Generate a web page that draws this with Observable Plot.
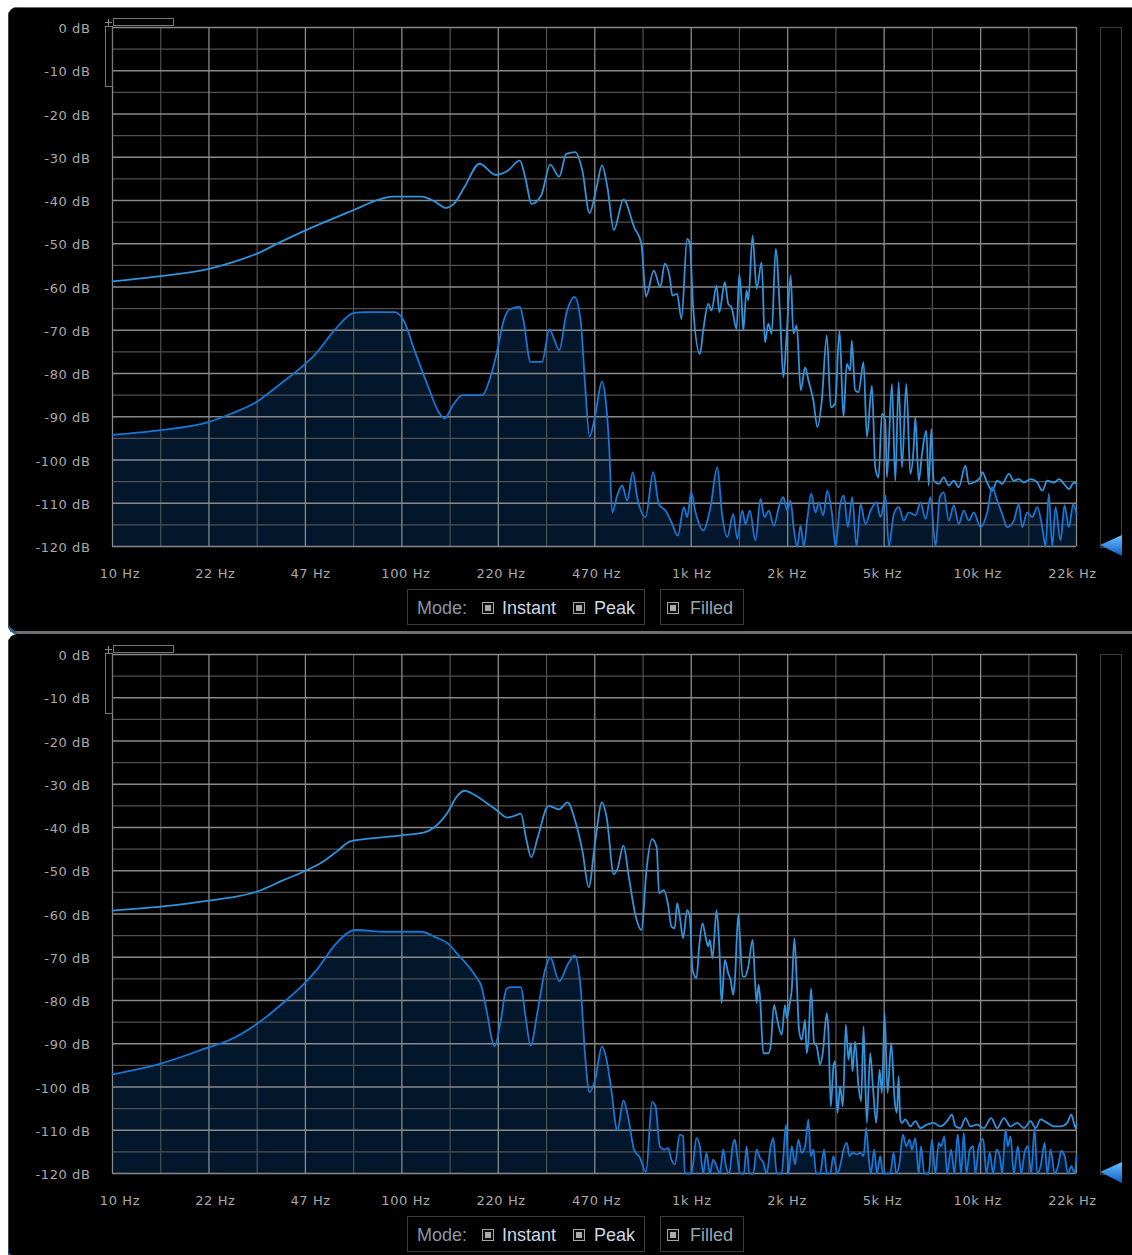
<!DOCTYPE html>
<html>
<head>
<meta charset="utf-8">
<script src="https://cdn.jsdelivr.net/npm/d3@7"></script>
<script src="https://cdn.jsdelivr.net/npm/@observablehq/plot@0.6"></script>
<style>
  html, body { margin: 0; padding: 0; background: #ffffff; width: 1132px; height: 1255px; overflow: hidden; }
  .panel { position: absolute; left: 8px; width: 1124px; height: 627px; background: #000; overflow: hidden;
           border-top-left-radius: 9px; border-bottom-left-radius: 9px; }
  .panel svg.chart { position: absolute; left: 0; top: 0; }
  .panel svg.chart text { letter-spacing: 0.6px; }
  .abs { position: absolute; box-sizing: border-box; }
  .legtxt { position: absolute; top: 590px; line-height: 22px; font-family: "Liberation Sans", Arial, sans-serif; font-size: 18px; white-space: nowrap; }
  .chk { position: absolute; top: 595px; width: 12px; height: 12px; box-sizing: border-box; border: 1px solid #a6a6a6; background: #0c0c0c; padding: 2px; }
  .chk div { width: 6px; height: 6px; background: #a9a9a9; }
</style>
</head>
<body>
<script>
// ---------- axis ticks ----------
const xTicks = [10, 21.6, 46.65, 100.76, 217.6, 470.1, 1015, 2193, 4737, 10232, 22000];
const xTickLabels = ["10 Hz", "22 Hz", "47 Hz", "100 Hz", "220 Hz", "470 Hz", "1k Hz", "2k Hz", "5k Hz", "10k Hz", "22k Hz"];
const xMinorGrid = [14.7, 31.74, 68.56, 148.1, 319.9, 691, 1492, 3223, 6962, 15038];
const yTicks = [0, -10, -20, -30, -40, -50, -60, -70, -80, -90, -100, -110, -120];
const yMinorGrid = [-5, -15, -25, -35, -45, -55, -65, -75, -85, -95, -105, -115];
const legendMode = "Mode:";
const legendItems = ["Instant", "Peak"];
const legendFilled = "Filled";

// ---------- series: [frequency Hz, level dB] ----------
const topPeak = [
  [10,-58.7],[14.7,-57.5],[21.6,-55.8],[28.3,-53.5],[31.7,-52.3],[37.7,-49.8],[46.7,-46.9],[56.2,-44.6],[68.6,-42.2],
  [83.8,-39.8],[93.9,-39.1],[118,-39.1],[132.2,-40.4],[143.2,-41.7],[152.5,-40.8],[166.1,-36.9],[187.3,-31.5],[213.5,-34.1],
  [233.9,-33.2],[258.4,-30.8],[269.7,-34.6],[283.9,-40.8],[306.6,-38.8],[329.4,-31.7],[353.7,-34.5],[374.5,-29.2],[402.2,-28.8],
  [425.8,-33.1],[450.7,-42.9],[477,-36.9],[498.1,-31.9],[519.8,-36.9],[547.3,-46.8],[591.1,-39.8],[644.1,-46.2],[681.9,-50],
  [707.6,-62.2],[753.2,-56.2],[793,-60],[821.9,-54.6],[855.3,-57.7],[873.6,-62.0],[907,-61.6],[939,-67.4],[982.6,-48.9],
  [1004,-50.0],[1031,-64.7],[1088,-75.5],[1117,-70.1],[1163,-63.9],[1194,-65.4],[1243,-59.7],[1270,-65.8],[1328,-58.9],
  [1364,-63.9],[1401,-64.7],[1458,-69.7],[1490,-57.0],[1518,-63.1],[1538,-70.1],[1579,-60.8],[1601,-63.1],[1657,-48.1],
  [1711,-60.4],[1781,-54.3],[1829,-72.8],[1879,-68.5],[1930,-70.8],[1993,-51.2],[2063,-66.2],[2118,-80.9],[2176,-70.8],
  [2246,-57.3],[2295,-70.8],[2357,-68.9],[2434,-83.9],[2520,-78.6],[2588,-81.6],[2693,-86.3],[2781,-92.4],[2879,-86.3],
  [2997,-71.2],[3094,-87.8],[3203,-87.0],[3316,-70.1],[3424,-90.1],[3516,-77.8],[3612,-79.3],[3659,-72.4],[3758,-83.9],
  [3860,-84.3],[4018,-77.4],[4127,-94.7],[4296,-82.8],[4412,-101.7],[4531,-104],[4654,-89.3],[4779,-90.9],[4843,-104],
  [5040,-82.4],[5177,-104.8],[5317,-82.0],[5461,-101.7],[5653,-82.4],[5838,-103.2],[5996,-97.1],[6077,-90.1],[6241,-104.8],
  [6409,-98.6],[6634,-93.2],[6758,-105.9],[6904,-92.8],[7035,-104.8],[7322,-105.5],[7621,-104],[7933,-105.9],[8254,-104.8],
  [8592,-106.3],[9066,-101.3],[9310,-105.5],[9687,-105.2],[10219,-104],[10357,-102.8],[10779,-105.2],[11220,-107.1],
  [11678,-104.8],[12153,-105.5],[12822,-103.2],[13342,-104.8],[13887,-104.4],[14454,-105.2],[15249,-104.4],[16082,-105.2],
  [16739,-107.1],[17424,-104.8],[18379,-105.2],[19125,-104.4],[19907,-105.5],[20720,-106.7],[21563,-105.2],[22000,-105.5]
];

const topInstant = [
  [10,-94.2],[14.7,-93.1],[21.6,-91.2],[26,-89.2],[31.7,-86.5],[37.7,-82.7],[46.7,-77.7],[50.1,-75.8],[59.5,-69.6],
  [68.6,-66],[74.7,-65.8],[95.2,-65.8],[102.2,-67.7],[111.4,-74.6],[123.1,-82.3],[136,-89.2],[142,-90.4],[150.3,-87.7],
  [163.7,-85],[191.5,-85],[202.8,-81.5],[214.7,-75.4],[227.3,-67.7],[237.3,-65.2],[258.4,-64.6],[265.9,-67.7],[281.5,-77.3],
  [308.4,-77.3],[327.5,-69.8],[340.8,-72.3],[353.7,-74.6],[374.5,-66.2],[399.9,-62.3],[419.8,-67.7],[435.6,-83.1],
  [450.7,-94.6],[470.6,-90],[498.1,-81.9],[512.5,-86],[527.4,-97],[540.2,-112.1],[562.3,-108.2],[585.3,-105.9],
  [609.1,-109.4],[636.8,-102.8],[659.6,-108.6],[704.7,-113.2],[749.6,-102.8],[784,-110.2],[826.9,-111.7],[872.3,-114.8],
  [912.1,-117.5],[957.2,-110.9],[983.3,-113.2],[1015,-107.5],[1051,-112.1],[1117,-116.3],[1184,-110.9],[1250,-101.7],
  [1300,-112.8],[1353,-117.8],[1420,-112.5],[1466,-118.2],[1526,-111.7],[1566,-114.8],[1621,-111.7],[1696,-118.6],
  [1765,-109],[1822,-113.2],[1886,-111.7],[1963,-115.2],[2043,-110.9],[2116,-108.6],[2185,-111.7],[2243,-109.4],
  [2303,-115.9],[2366,-120],[2430,-115.2],[2495,-120],[2563,-113.8],[2646,-107.8],[2738,-112.1],[2811,-109.8],
  [2912,-112.8],[3006,-107.1],[3129,-112.8],[3213,-120],[3325,-110.9],[3433,-108.2],[3545,-115.5],[3671,-108.6],
  [3799,-120],[3923,-110.2],[4082,-114.8],[4249,-111.7],[4457,-109.8],[4602,-113.2],[4789,-108.2],[4917,-120],
  [5117,-112.5],[5325,-110.9],[5542,-114],[5768,-112.1],[6085,-112.8],[6334,-109.8],[6591,-113.6],[6859,-108.6],
  [7138,-120],[7387,-108.6],[7627,-107.5],[7937,-114],[8260,-110.5],[8596,-114.8],[8945,-111.7],[9311,-114],
  [9691,-112.1],[10223,-115.5],[10786,-112.1],[11225,-106.3],[11683,-109.4],[12157,-112.5],[12652,-115.5],[13340,-114],
  [13883,-110.2],[14266,-115.5],[14846,-112.1],[15451,-113.2],[16080,-110.9],[16734,-115.5],[17180,-120],[17640,-107.8],
  [18125,-120],[18606,-110.9],[19364,-118.6],[19993,-110.5],[20692,-115.5],[21432,-110.2],[22000,-112.5]
];

const bottomPeak = [
  [10,-59.2],[14.7,-58.3],[21.6,-56.9],[26.8,-56],[31.7,-54.8],[38.8,-52.3],[46.7,-50],[53.1,-48.1],[60.3,-45.4],
  [66.7,-43.2],[74.7,-42.7],[100.8,-41.8],[119.6,-41.2],[130.3,-40],[144,-36.9],[156.9,-32.7],[166.1,-31.5],[178.4,-32.3],
  [197.1,-34.2],[214.7,-36],[233.9,-37.7],[247.6,-37.3],[260.7,-36.8],[271.3,-42.3],[283.1,-46.9],[298.1,-42.3],
  [324.8,-35],[338.9,-35.4],[353.7,-35.8],[377.7,-34.2],[402.2,-38.5],[425.8,-45.4],[448.1,-53.8],[470.6,-43.8],
  [498.1,-34.2],[516.9,-37.7],[547.3,-50.8],[563.1,-49.6],[591.1,-44.2],[617.1,-51.5],[653.1,-60.8],[681.9,-63.7],
  [711.7,-49.2],[742.7,-42.7],[770.7,-44.6],[785.5,-55.2],[815.3,-54.5],[844.1,-57.9],[866.9,-62.9],[890.3,-63.3],
  [907,-57.5],[926.6,-60.6],[951.7,-65.6],[982.6,-59.1],[1004,-60.6],[1025.4,-72.9],[1058.8,-74.8],[1081.7,-67.5],
  [1111,-62.2],[1141,-65.6],[1163,-67.5],[1178,-66],[1203,-70.2],[1243,-59.1],[1270,-67.5],[1294,-80.6],[1328,-70.6],
  [1364,-73.7],[1390,-75.2],[1420,-78.7],[1439,-75.2],[1478,-60.2],[1497,-65.2],[1530,-74.5],[1559,-74.5],[1601,-72.2],
  [1657,-66],[1689,-75.2],[1711,-80.6],[1739,-76.4],[1758,-79.1],[1805,-92.2],[1879,-92.2],[1914,-90.6],[1966,-81],
  [2019,-84.5],[2090,-87.9],[2147,-81],[2176,-84.1],[2235,-80.2],[2265,-77.5],[2313,-65.6],[2357,-75.2],[2401,-86.8],
  [2453,-89.1],[2520,-84.5],[2553,-92.2],[2588,-89.1],[2643,-77.2],[2707,-89.8],[2765,-90.6],[2840,-94.8],[2901,-92.2],
  [2997,-82.9],[3037,-87.5],[3094,-104.5],[3161,-95.2],[3203,-94.1],[3263,-106],[3334,-99.8],[3406,-104.5],[3488,-85.6],
  [3563,-93.7],[3630,-89.8],[3679,-96.4],[3758,-89.5],[3860,-99.8],[3944,-103.3],[4018,-86],[4072,-98.3],[4127,-108.3],
  [4238,-92.2],[4330,-99.8],[4447,-108.3],[4567,-96],[4654,-101.4],[4753,-82.9],[4868,-101.4],[5013,-89.8],[5148,-102.9],
  [5245,-106],[5317,-97.5],[5389,-107.5],[5461,-108.3],[5608,-107.5],[5838,-109.1],[6077,-107.9],[6323,-109.5],
  [6670,-108.7],[7036,-108.3],[7420,-109.1],[7827,-107.9],[8147,-106.4],[8367,-109.1],[8710,-109.5],[9066,-107.2],
  [9434,-109.1],[9950,-108.7],[10495,-109.5],[11131,-107.2],[11678,-109.5],[12317,-107.2],[12991,-109.1],[13702,-108.3],
  [14454,-109.5],[15249,-107.9],[15874,-109.5],[16519,-107.5],[17424,-108.3],[18379,-109.1],[19382,-109.1],[20443,-108.3],
  [21103,-106.4],[21849,-109.5],[22000,-108.7]
];

const bottomInstant = [
  [10,-97.1],[14.7,-94.6],[21.6,-90.8],[25.3,-89.2],[31.7,-85.4],[39.9,-80],[46.7,-75.8],[50.8,-73.1],[59.5,-66.9],
  [66.7,-64],[69.6,-63.7],[88.7,-64.1],[117.9,-64.1],[132.2,-65.4],[146.1,-66.9],[156.9,-69.2],[180.9,-74.2],[190.5,-76.9],
  [197.1,-81.5],[211.6,-90.6],[220.9,-85.4],[232.5,-77.3],[240.7,-76.9],[260.7,-76.9],[269.7,-83.1],[281.5,-90.4],
  [298.1,-82.3],[315.6,-73.1],[329.4,-70],[353.7,-75.5],[379.9,-71.5],[399.9,-69.6],[419.8,-76.9],[435.6,-93.1],
  [450.7,-101.2],[470.6,-98.5],[498.1,-90.6],[516.9,-93.8],[534.9,-100],[563.1,-110],[591.1,-103.1],[613.4,-106.9],
  [644.1,-114.6],[672.1,-116.2],[707.6,-119.6],[742.7,-103.5],[764.2,-104.6],[789.7,-113.7],[821.9,-114.5],[844.1,-114.1],
  [866.9,-116.8],[890.3,-117.9],[926.6,-111],[951.7,-111.4],[964.5,-120],[1017.2,-120],[1058.8,-111.8],[1087.5,-113.7],
  [1116.9,-120],[1147,-115.2],[1178.3,-120],[1209.5,-116.8],[1242.6,-118.3],[1276.2,-120],[1310.8,-114.5],[1339.2,-118.3],
  [1375.4,-120],[1412.3,-113.7],[1438.8,-112.2],[1466,-116],[1497.7,-120],[1546.4,-120],[1579.8,-113.7],[1613.7,-120],
  [1666.2,-120],[1711.3,-114.5],[1757.6,-116.4],[1805.2,-117.5],[1854,-120],[1914.3,-113.7],[1955.5,-111.8],[2008.4,-120],
  [2090.5,-120],[2164.4,-108.7],[2205,-120],[2264.6,-113.7],[2325.9,-117.9],[2388.5,-112.2],[2453.1,-115.2],[2519.5,-113.7],
  [2587.7,-107.5],[2636.4,-116],[2693,-114.5],[2751,-120],[2840.5,-120],[2932.9,-114.5],[2996.4,-120],[3077,-120],
  [3160.3,-116],[3263,-120],[3351.5,-117.5],[3424,-114.5],[3516.7,-112.9],[3592.1,-116],[3689.3,-115.2],[3809.3,-115.6],
  [3912.4,-115.2],[4018.4,-116],[4104.4,-109.5],[4182,-116],[4260.7,-120],[4376,-114.5],[4470.8,-120],[4591,-116],
  [4688,-120],[4815,-120],[4972,-120],[5107,-115.2],[5216,-120],[5357,-117.5],[5502,-111],[5651,-113.7],[5805,-112.2],
  [5914,-114.5],[6075,-111.8],[6240,-120],[6357,-113.7],[6529,-120],[6758,-120],[6941,-112.2],[7129,-120],[7322,-112.9],
  [7460,-113.7],[7661,-111.4],[7827,-120],[8082,-114.5],[8300,-120],[8524,-111],[8755,-120],[8944,-110.6],[9136,-120],
  [9383,-114.5],[9637,-113.7],[9817,-120],[10083,-113.7],[10438,-112],[10720,-120],[11010,-115.2],[11308,-120],
  [11614,-114.5],[11928,-116],[12153,-120],[12482,-109.8],[12715,-113.7],[12991,-111.4],[13342,-120],[13777,-113.7],
  [14149,-120],[14532,-115.2],[14925,-113.7],[15328,-120],[15743,-109.5],[16082,-120],[16518,-118.3],[17056,-112.9],
  [17424,-120],[17896,-114.5],[18478,-120],[18978,-118.3],[19491,-114.8],[20019,-116],[20555,-120],[21111,-118.3],
  [21683,-120],[22000,-116]
];

const panels = [
  { peak: topPeak, instant: topInstant },
  { peak: bottomPeak, instant: bottomInstant }
];

// ---------- drawing ----------
function spectrum(peak, instant) {
  const toRows = a => a.map(([hz, db]) => ({ hz, db }));
  const P = toRows(peak), I = toRows(instant);
  const labelMarks = xTicks.map((t, i) =>
    Plot.text([t], { x: d => d, text: () => xTickLabels[i], frameAnchor: "bottom", dy: 31, dx: 7.5 - i * 1.15, fill: "#a9a9a9" })
  );
  return Plot.plot({
    width: 1124, height: 580,
    marginLeft: 104, marginRight: 56, marginTop: 20, marginBottom: 41,
    x: { type: "log", domain: [10, 22000], axis: null },
    y: { domain: [-120, 0], axis: null },
    style: { background: "transparent", color: "#a9a9a9", fontFamily: "DejaVu Sans, sans-serif", fontSize: "13px", overflow: "visible" },
    marks: [
      Plot.areaY(I, { x: "hz", y1: -120, y2: "db", fill: "#03172c", curve: "monotone-x" }),
      Plot.ruleX(xMinorGrid, { stroke: "#505050", strokeWidth: 1.2 }),
      Plot.ruleY(yMinorGrid, { stroke: "#505050", strokeWidth: 1.2 }),
      Plot.ruleX(xTicks, { stroke: "#898989", strokeWidth: 1.3 }),
      Plot.ruleY(yTicks, { stroke: "#898989", strokeWidth: 1.3 }),
      Plot.line(P, { x: "hz", y: "db", stroke: "#3093dc", strokeWidth: 1.8, curve: "monotone-x" }),
      Plot.line(I, { x: "hz", y: "db", stroke: "#1876d4", strokeWidth: 1.8, curve: "monotone-x" }),
      Plot.text(yTicks, { y: d => d, text: d => `${d} dB`, frameAnchor: "left", textAnchor: "end", dx: -22, dy: 1.5, fill: "#a9a9a9" }),
      ...labelMarks
    ]
  });
}

panels.forEach((p, i) => {
  const panel = document.createElement("div");
  panel.className = "panel";
  panel.style.top = (7 + 627 * i) + "px";
  document.body.appendChild(panel);

  const svg = spectrum(p.peak, p.instant);
  svg.classList.add("chart");
  panel.appendChild(svg);

  const add = (html) => panel.insertAdjacentHTML("beforeend", html);
  // borders
  if (i === 0) add(`<div class="abs" style="left:0;top:0;width:1124px;height:1px;background:#6c6c6c"></div>`);
  add(`<div class="abs" style="left:0;top:0;width:1px;height:627px;background:#3b4654"></div>`);
  add(`<div class="abs" style="left:0;top:624px;width:1124px;height:3px;background:#6e6e6e"></div>`);
  add(`<svg class="abs" style="left:0;top:616px" width="12" height="20"><polygon points="0,2 9,10 0,18" fill="#2d5f8f"/></svg>`);
  // zoom handles near the top-left
  add(`<div class="abs" style="left:105px;top:11px;width:61px;height:8px;border:1px solid #777"></div>`);
  add(`<div class="abs" style="left:97px;top:19px;width:8px;height:61px;border:1px solid #777"></div>`);
  add(`<div class="abs" style="left:97px;top:15px;width:7px;height:1px;background:#888"></div>`);
  add(`<div class="abs" style="left:100px;top:12px;width:1px;height:7px;background:#888"></div>`);
  // level meter
  add(`<div class="abs" style="left:1092px;top:20px;width:22px;height:521px;border:1px solid #3c3c3c"></div>`);
  add(`<svg class="abs" style="left:1090px;top:526px" width="26" height="26">
        <defs><linearGradient id="tg${i}" x1="0" y1="0" x2="0" y2="1">
          <stop offset="0" stop-color="#6cc0ff"/><stop offset="1" stop-color="#0b5ec4"/></linearGradient></defs>
        <polygon points="2,12 24,2 24,23" fill="url(#tg${i})"/></svg>`);
  // legend boxes
  add(`<div class="abs" style="left:399px;top:582px;width:238px;height:36px;border:1px solid #3c3c3c"></div>`);
  add(`<div class="abs" style="left:652px;top:582px;width:84px;height:36px;border:1px solid #3c3c3c"></div>`);
  add(`<span class="legtxt" style="left:409px;color:#8b96a2">${legendMode}</span>`);
  add(`<div class="chk" style="left:474px"><div></div></div>`);
  add(`<span class="legtxt" style="left:494px;color:#cfd8e2">${legendItems[0]}</span>`);
  add(`<div class="chk" style="left:565px"><div></div></div>`);
  add(`<span class="legtxt" style="left:586px;color:#cfd8e2">${legendItems[1]}</span>`);
  add(`<div class="chk" style="left:659px"><div></div></div>`);
  add(`<span class="legtxt" style="left:682px;color:#9aa3ad">${legendFilled}</span>`);
});
</script>
</body>
</html>
